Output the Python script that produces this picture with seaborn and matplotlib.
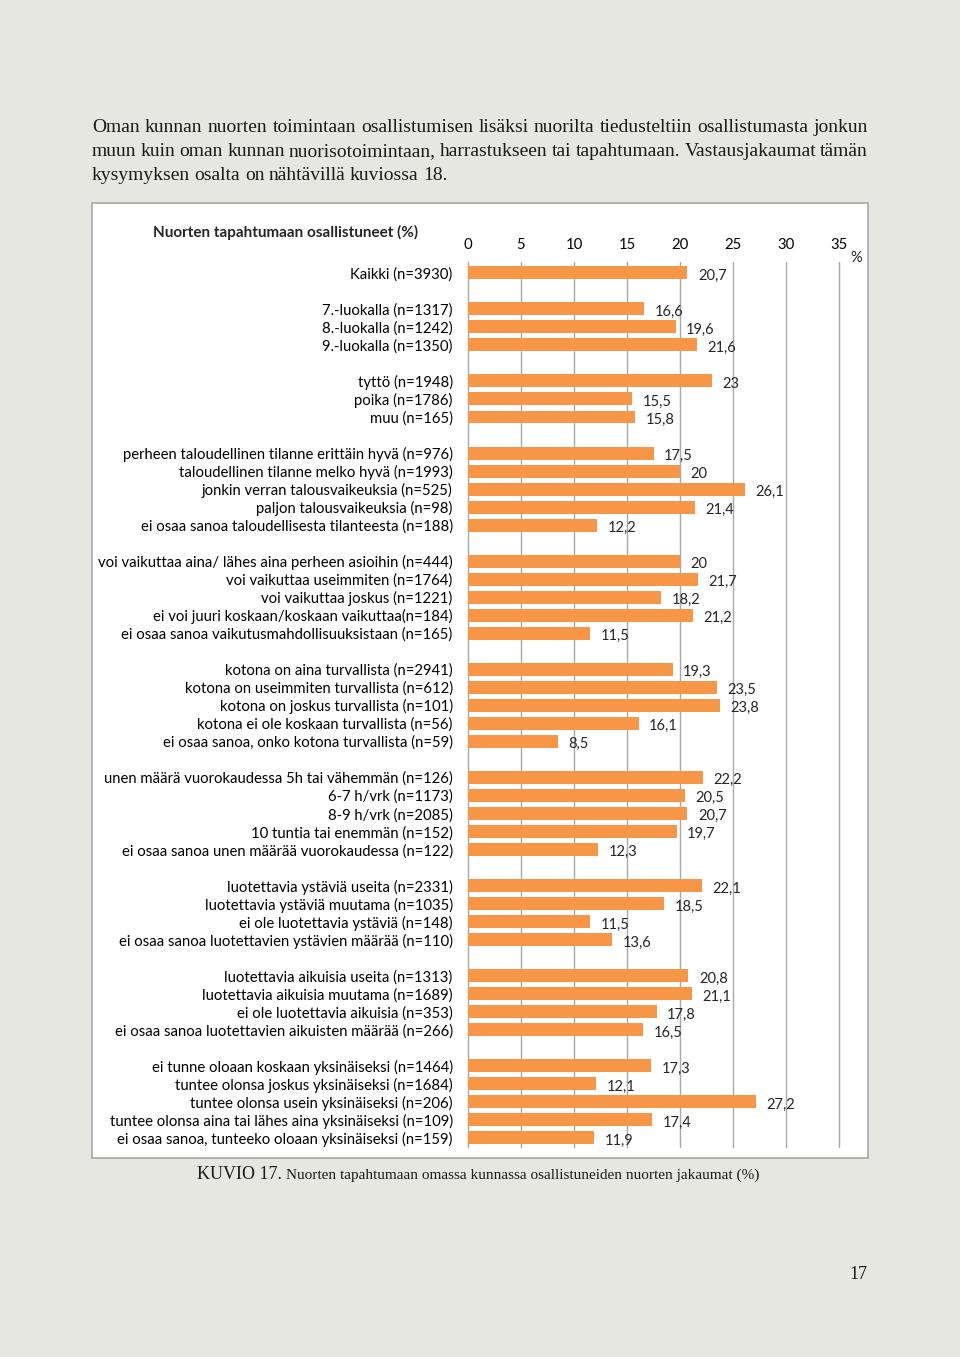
import pandas as pd
import matplotlib
matplotlib.use('Agg')
import matplotlib.pyplot as plt
import seaborn as sns
from matplotlib.patches import Rectangle

sns.set_style('white')
plt.rcParams['font.family'] = ['Lato', 'DejaVu Sans']

# ryhmat ja osuudet (%)
kaikki = ['Kaikki (n=3930)']
kaikki_arvot = [20.7]

luokka = ['7.-luokalla (n=1317)', '8.-luokalla (n=1242)', '9.-luokalla (n=1350)']
luokka_arvot = [16.6, 19.6, 21.6]

sukupuoli = ['tyttö (n=1948)', 'poika (n=1786)', 'muu (n=165)']
sukupuoli_arvot = [23.0, 15.5, 15.8]

talous = ['perheen taloudellinen tilanne erittäin hyvä (n=976)',
          'taloudellinen tilanne melko hyvä (n=1993)',
          'jonkin verran talousvaikeuksia (n=525)',
          'paljon talousvaikeuksia (n=98)',
          'ei osaa sanoa taloudellisesta tilanteesta (n=188)']
talous_arvot = [17.5, 20.0, 26.1, 21.4, 12.2]

vaikutus = ['voi vaikuttaa aina/ lähes aina perheen asioihin (n=444)',
            'voi vaikuttaa useimmiten (n=1764)',
            'voi vaikuttaa joskus (n=1221)',
            'ei voi juuri koskaan/koskaan vaikuttaa(n=184)',
            'ei osaa sanoa vaikutusmahdollisuuksistaan (n=165)']
vaikutus_arvot = [20.0, 21.7, 18.2, 21.2, 11.5]

koti = ['kotona on aina turvallista (n=2941)',
        'kotona on useimmiten turvallista (n=612)',
        'kotona on joskus turvallista (n=101)',
        'kotona ei ole koskaan turvallista (n=56)',
        'ei osaa sanoa, onko kotona turvallista (n=59)']
koti_arvot = [19.3, 23.5, 23.8, 16.1, 8.5]

uni = ['unen määrä vuorokaudessa 5h tai vähemmän (n=126)',
       '6-7 h/vrk (n=1173)',
       '8-9 h/vrk (n=2085)',
       '10 tuntia tai enemmän (n=152)',
       'ei osaa sanoa unen määrää vuorokaudessa (n=122)']
uni_arvot = [22.2, 20.5, 20.7, 19.7, 12.3]

ystavat = ['luotettavia ystäviä useita (n=2331)',
           'luotettavia ystäviä muutama (n=1035)',
           'ei ole luotettavia ystäviä (n=148)',
           'ei osaa sanoa luotettavien ystävien määrää (n=110)']
ystavat_arvot = [22.1, 18.5, 11.5, 13.6]

aikuiset = ['luotettavia aikuisia useita (n=1313)',
            'luotettavia aikuisia muutama (n=1689)',
            'ei ole luotettavia aikuisia (n=353)',
            'ei osaa sanoa luotettavien aikuisten määrää (n=266)']
aikuiset_arvot = [20.8, 21.1, 17.8, 16.5]

yksinaisyys = ['ei tunne oloaan koskaan yksinäiseksi (n=1464)',
               'tuntee olonsa joskus yksinäiseksi (n=1684)',
               'tuntee olonsa usein yksinäiseksi (n=206)',
               'tuntee olonsa aina tai lähes aina yksinäiseksi (n=109)',
               'ei osaa sanoa, tunteeko oloaan yksinäiseksi (n=159)']
yksinaisyys_arvot = [17.3, 12.1, 27.2, 17.4, 11.9]

ryhmat = [(kaikki, kaikki_arvot), (luokka, luokka_arvot),
          (sukupuoli, sukupuoli_arvot), (talous, talous_arvot),
          (vaikutus, vaikutus_arvot), (koti, koti_arvot), (uni, uni_arvot),
          (ystavat, ystavat_arvot), (aikuiset, aikuiset_arvot),
          (yksinaisyys, yksinaisyys_arvot)]

# tyhjä rivi ryhmien väliin
rivit, arvot, order = [], [], []
for k, (nimet, luvut) in enumerate(ryhmat):
    if k > 0:
        order.append(' ' * k)
    order += nimet
    rivit += nimet
    arvot += luvut
df = pd.DataFrame({'ryhma': rivit, 'osuus': arvot})

W, H = 960, 1357
fig = plt.figure(figsize=(W / 100, H / 100), dpi=100)
fig.patch.set_facecolor('#e7e7e1')


def fx(px):
    return px / W


def fy(py):
    return 1 - py / H


# kuvion kehys
fig.add_artist(Rectangle((fx(92), fy(1158)), fx(868) - fx(92), fy(203) - fy(1158),
                         transform=fig.transFigure, facecolor='white',
                         edgecolor='#a8a8a8', lw=1.2, zorder=-1))

ax = fig.add_axes([fx(468), fy(1147), fx(839) - fx(468), fy(262) - fy(1147)])
sns.barplot(data=df, x='osuus', y='ryhma', order=order, orient='h',
            color='#f79646', saturation=1, width=0.72, linewidth=0,
            errorbar=None, ax=ax)
ax.set_xlim(0, 35)
ax.set_ylim(48.5, -0.6)
ax.xaxis.tick_top()
ax.set_xticks(range(0, 36, 5))
ax.grid(axis='x', color='#a8a8a8', lw=1)
for gl in ax.get_xgridlines():
    gl.set_clip_on(False)
ax.set_axisbelow(True)
sns.despine(ax=ax, left=True, bottom=True, top=True, right=True)
ax.tick_params(axis='both', length=0, labelsize=10.75, colors='black')
ax.tick_params(axis='y', pad=11)
ax.tick_params(axis='x', pad=7)
ax.set_xlabel('')
ax.set_ylabel('')


def pilkku(v):
    s = f'{v:.1f}'.replace('.', ',')
    return s[:-2] if s.endswith(',0') else s


for c in ax.containers:
    for ann in ax.bar_label(c, fmt=pilkku, padding=7.5, fontsize=10.5):
        ann.xyann = (7.5, -2)

fig.text(fx(153), fy(232), 'Nuorten tapahtumaan osallistuneet (%)',
         fontsize=11, fontweight='bold', va='center', ha='left')
fig.text(fx(856), fy(258), '%', fontsize=10.5, va='center', ha='center')

# leipäteksti tasattuna
renderer = fig.canvas.get_renderer()
serif = ['Liberation Serif', 'DejaVu Serif']
rivit_teksti = ['Oman kunnan nuorten toimintaan osallistumisen lisäksi nuorilta tiedusteltiin osallistumasta jonkun',
                'muun kuin oman kunnan nuorisotoimintaan, harrastukseen tai tapahtumaan. Vastausjakaumat tämän',
                'kysymyksen osalta on nähtävillä kuviossa 18.']
for n, rivi in enumerate(rivit_teksti):
    sanat = rivi.split()
    tekstit = [fig.text(0, fy(132 + 24 * n), s, family=serif, fontsize=14,
                        color='#1a1a1a', va='baseline', ha='left') for s in sanat]
    leveys = [t.get_window_extent(renderer).width for t in tekstit]
    if n < len(rivit_teksti) - 1:
        vali = (868 - 92 - sum(leveys)) / (len(sanat) - 1)
    else:
        vali = 4.5
    x = 92
    for t, w in zip(tekstit, leveys):
        t.set_x(fx(x))
        x += w + vali

# kuvateksti
t1 = fig.text(fx(197), fy(1179), 'KUVIO 17.', family=serif, fontsize=13,
              color='#1a1a1a', va='baseline', ha='left')
w1 = t1.get_window_extent(renderer).width
fig.text(fx(197 + w1 + 4), fy(1179),
         'Nuorten tapahtumaan omassa kunnassa osallistuneiden nuorten jakaumat (%)',
         family=serif, fontsize=11, color='#1a1a1a', va='baseline', ha='left')

fig.text(fx(858), fy(1279), '17', family=serif, fontsize=13,
         color='#1a1a1a', va='baseline', ha='center')

fig.savefig('out.png', dpi=100, facecolor=fig.get_facecolor())
